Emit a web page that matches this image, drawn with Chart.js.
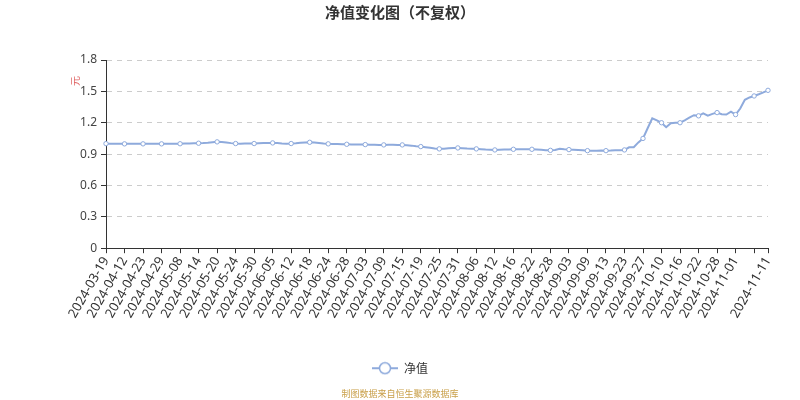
<!DOCTYPE html>
<html>
<head>
<meta charset="utf-8">
<title>净值变化图（不复权）</title>
<script src="https://cdn.jsdelivr.net/npm/chart.js@4.4.1/dist/chart.umd.min.js"></script>
<style>
  html, body { margin: 0; padding: 0; background: #fff; }
  #wrap { width: 800px; height: 400px; }
</style>
</head>
<body>
<div id="wrap"><canvas id="chart" width="800" height="400"></canvas></div>
<script>
// Trading dates (category axis).
var dates = [
  '2024-03-19', '2024-03-22', '2024-03-29', '2024-04-03',
  '2024-04-12', '2024-04-17', '2024-04-19', '2024-04-22',
  '2024-04-23', '2024-04-24', '2024-04-25', '2024-04-26',
  '2024-04-29', '2024-04-30', '2024-05-06', '2024-05-07',
  '2024-05-08', '2024-05-09', '2024-05-10', '2024-05-13',
  '2024-05-14', '2024-05-15', '2024-05-16', '2024-05-17',
  '2024-05-20', '2024-05-21', '2024-05-22', '2024-05-23',
  '2024-05-24', '2024-05-27', '2024-05-28', '2024-05-29',
  '2024-05-30', '2024-05-31', '2024-06-03', '2024-06-04',
  '2024-06-05', '2024-06-06', '2024-06-07', '2024-06-11',
  '2024-06-12', '2024-06-13', '2024-06-14', '2024-06-17',
  '2024-06-18', '2024-06-19', '2024-06-20', '2024-06-21',
  '2024-06-24', '2024-06-25', '2024-06-26', '2024-06-27',
  '2024-06-28', '2024-06-30', '2024-07-01', '2024-07-02',
  '2024-07-03', '2024-07-04', '2024-07-05', '2024-07-08',
  '2024-07-09', '2024-07-10', '2024-07-11', '2024-07-12',
  '2024-07-15', '2024-07-16', '2024-07-17', '2024-07-18',
  '2024-07-19', '2024-07-22', '2024-07-23', '2024-07-24',
  '2024-07-25', '2024-07-26', '2024-07-29', '2024-07-30',
  '2024-07-31', '2024-08-01', '2024-08-02', '2024-08-05',
  '2024-08-06', '2024-08-07', '2024-08-08', '2024-08-09',
  '2024-08-12', '2024-08-13', '2024-08-14', '2024-08-15',
  '2024-08-16', '2024-08-19', '2024-08-20', '2024-08-21',
  '2024-08-22', '2024-08-23', '2024-08-26', '2024-08-27',
  '2024-08-28', '2024-08-29', '2024-08-30', '2024-09-02',
  '2024-09-03', '2024-09-04', '2024-09-05', '2024-09-06',
  '2024-09-09', '2024-09-10', '2024-09-11', '2024-09-12',
  '2024-09-13', '2024-09-18', '2024-09-19', '2024-09-20',
  '2024-09-23', '2024-09-24', '2024-09-25', '2024-09-26',
  '2024-09-27', '2024-09-30', '2024-10-08', '2024-10-09',
  '2024-10-10', '2024-10-11', '2024-10-14', '2024-10-15',
  '2024-10-16', '2024-10-17', '2024-10-18', '2024-10-21',
  '2024-10-22', '2024-10-23', '2024-10-24', '2024-10-25',
  '2024-10-28', '2024-10-29', '2024-10-30', '2024-10-31',
  '2024-11-01', '2024-11-04', '2024-11-05', '2024-11-06',
  '2024-11-07', '2024-11-08', '2024-11-10', '2024-11-11'
];

// Unit NAV (元).
var navValues = [
  1.000, 1.000, 0.999, 0.998,
  0.998, 0.999, 0.998, 0.998,
  0.998, 0.999, 0.998, 0.999,
  0.998, 0.999, 1.000, 1.000,
  0.999, 1.001, 1.002, 1.003,
  1.004, 1.006, 1.009, 1.013,
  1.017, 1.015, 1.010, 1.005,
  1.001, 1.000, 1.001, 1.002,
  1.001, 1.003, 1.005, 1.006,
  1.007, 1.005, 1.002, 1.000,
  1.001, 1.004, 1.008, 1.011,
  1.013, 1.010, 1.006, 1.001,
  0.998, 0.997, 0.996, 0.995,
  0.994, 0.993, 0.993, 0.992,
  0.991, 0.990, 0.989, 0.988,
  0.988, 0.990, 0.989, 0.988,
  0.988, 0.985, 0.981, 0.976,
  0.972, 0.966, 0.960, 0.954,
  0.950, 0.952, 0.955, 0.958,
  0.959, 0.956, 0.953, 0.951,
  0.950, 0.947, 0.944, 0.942,
  0.940, 0.942, 0.944, 0.945,
  0.946, 0.946, 0.947, 0.946,
  0.946, 0.944, 0.941, 0.938,
  0.936, 0.940, 0.950, 0.946,
  0.943, 0.941, 0.939, 0.936,
  0.933, 0.932, 0.933, 0.934,
  0.933, 0.934, 0.936, 0.937,
  0.940, 0.965, 0.966, 1.012,
  1.050, 1.147, 1.243, 1.222,
  1.200, 1.157, 1.196, 1.199,
  1.200, 1.223, 1.248, 1.272,
  1.266, 1.290, 1.268, 1.285,
  1.297, 1.281, 1.278, 1.305,
  1.278, 1.336, 1.420, 1.442,
  1.456, 1.472, 1.490, 1.510
];

// Dates that carry a visible tick label, and ticks drawn without a label.
var shownLabels = [
  '2024-03-19', '2024-04-12', '2024-04-23', '2024-04-29', '2024-05-08', '2024-05-14',
  '2024-05-20', '2024-05-24', '2024-05-30', '2024-06-05', '2024-06-12', '2024-06-18',
  '2024-06-24', '2024-06-28', '2024-07-03', '2024-07-09', '2024-07-15', '2024-07-19',
  '2024-07-25', '2024-07-31', '2024-08-06', '2024-08-12', '2024-08-16', '2024-08-22',
  '2024-08-28', '2024-09-03', '2024-09-09', '2024-09-13', '2024-09-23', '2024-09-27',
  '2024-10-10', '2024-10-16', '2024-10-22', '2024-10-28', '2024-11-01', '2024-11-11'
];
var tickOnlyLabels = ['2024-11-07'];
var yTicks = [0, 0.3, 0.6, 0.9, 1.2, 1.5, 1.8];

var LINE = '#8eaadc';
var FONT = '"Noto Sans", "Noto Sans CJK SC", sans-serif';
var CJK_FONT = '"Noto Sans CJK SC", sans-serif';

function isMarked(label) {
  return shownLabels.indexOf(label) !== -1 || tickOnlyLabels.indexOf(label) !== -1;
}

// Legend swatch: a short line with a hollow circle on it.
function makeSwatch() {
  var c = document.createElement('canvas');
  c.width = 26;
  c.height = 14;
  var g = c.getContext('2d');
  g.strokeStyle = LINE;
  g.lineWidth = 2;
  g.beginPath();
  g.moveTo(0, 7);
  g.lineTo(26, 7);
  g.stroke();
  g.beginPath();
  g.arc(13, 7, 5.5, 0, Math.PI * 2);
  g.fillStyle = '#fff';
  g.fill();
  g.lineWidth = 1.5;
  g.stroke();
  return c;
}

// Small rotated unit label beside the y axis.
var unitLabelPlugin = {
  id: 'unitLabel',
  afterDraw: function(chart, _args, opts) {
    var ctx = chart.ctx;
    var area = chart.chartArea;
    ctx.save();
    ctx.translate(area.left - 31, area.top + 21);
    ctx.rotate(-Math.PI / 2);
    ctx.font = '10px ' + CJK_FONT;
    ctx.fillStyle = opts.color;
    ctx.textAlign = 'center';
    ctx.textBaseline = 'middle';
    ctx.fillText(opts.text, 0, 0);
    ctx.restore();
  }
};

var swatch = makeSwatch();

new Chart(document.getElementById('chart'), {
  type: 'line',
  data: {
    labels: dates,
    datasets: [{
      label: '净值',
      data: navValues,
      borderColor: LINE,
      borderWidth: 2,
      backgroundColor: '#fff',
      pointBackgroundColor: '#fff',
      pointBorderColor: LINE,
      pointBorderWidth: 1,
      pointRadius: function(ctx) {
        return isMarked(dates[ctx.dataIndex]) ? 2.2 : 0;
      },
      tension: 0,
      fill: false
    }]
  },
  options: {
    responsive: false,
    animation: false,
    layout: {padding: {left: 32, right: 32, top: 0, bottom: 0}},
    scales: {
      x: {
        type: 'category',
        grid: {display: true, drawOnChartArea: false, drawTicks: true, tickLength: 5, color: '#333'},
        border: {display: true, color: '#333', width: 1},
        ticks: {
          autoSkip: false,
          minRotation: 60,
          maxRotation: 60,
          padding: 1,
          color: '#333',
          font: {family: FONT, size: 13},
          callback: function(value) {
            var label = this.getLabelForValue(value);
            if (shownLabels.indexOf(label) !== -1) {
              return label;
            }
            if (tickOnlyLabels.indexOf(label) !== -1) {
              return '';
            }
            return null;
          }
        },
        afterFit: function(scale) {
          scale.height = 104;
        }
      },
      y: {
        min: 0,
        max: 1.8,
        afterBuildTicks: function(scale) {
          scale.ticks = yTicks.map(function(v) { return {value: v}; });
        },
        grid: {color: '#cccccc', tickColor: '#333', tickLength: 5},
        border: {display: true, color: '#333', width: 1, dash: [5, 5]},
        ticks: {
          padding: 4,
          color: '#444',
          font: {family: FONT, size: 12},
          callback: function(v) {
            return String(Math.round(v * 10) / 10);
          }
        },
        afterFit: function(scale) {
          scale.width = 74;
        }
      }
    },
    plugins: {
      title: {
        display: true,
        text: '净值变化图（不复权）',
        color: '#333',
        font: {family: CJK_FONT, size: 15, weight: 'bold'},
        padding: {top: 3, bottom: 39}
      },
      subtitle: {
        display: true,
        position: 'bottom',
        text: '制图数据来自恒生聚源数据库',
        color: '#c9a04a',
        font: {family: CJK_FONT, size: 9},
        padding: {top: 4, bottom: 1}
      },
      legend: {
        display: true,
        position: 'bottom',
        labels: {
          usePointStyle: true,
          pointStyleWidth: 26,
          color: '#333',
          font: {family: CJK_FONT, size: 12},
          padding: 10,
          generateLabels: function() {
            return [{
              text: '净值',
              pointStyle: swatch,
              fillStyle: '#fff',
              strokeStyle: LINE,
              lineWidth: 0,
              fontColor: '#333',
              datasetIndex: 0,
              hidden: false
            }];
          }
        }
      },
      tooltip: {enabled: false},
      unitLabel: {text: '元', color: '#e06666'}
    }
  },
  plugins: [unitLabelPlugin]
});
</script>
</body>
</html>
